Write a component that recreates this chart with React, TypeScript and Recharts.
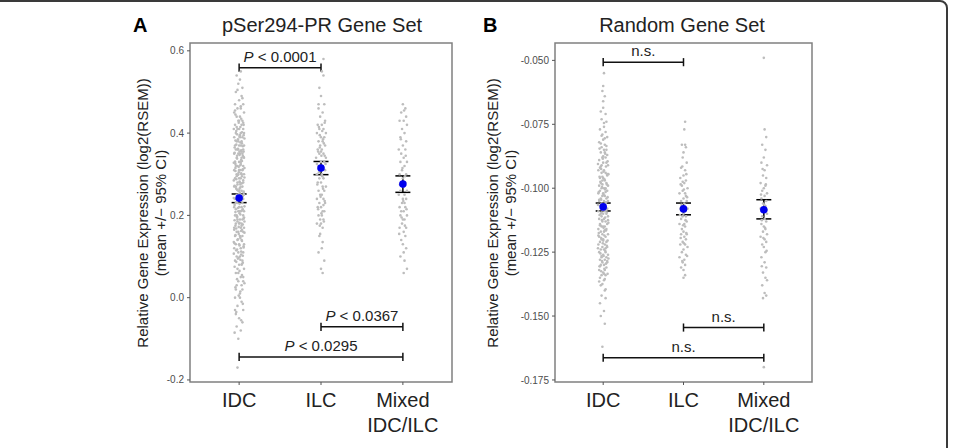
import {
  ScatterChart,
  Scatter,
  XAxis,
  YAxis,
  ReferenceLine,
  ReferenceArea,
  ErrorBar,
} from 'recharts'

const FONT = '"Liberation Sans", Arial, Helvetica, sans-serif'

const categories = ['IDC', 'ILC', 'Mixed\nIDC/ILC']

// ---- panel A: pSer294-PR gene set ([jitter, value] per sample) ----
const pSerTicks = [-0.2, 0, 0.2, 0.4, 0.6]
const pSerMeans = [0.242, 0.315, 0.276]
const pSerLow = [0.231, 0.299, 0.256]
const pSerHigh = [0.252, 0.331, 0.296]

const pSerIDC: [number, number][] = [
  [0.02, 0.55], [-0.03, 0.54], [0.01, 0.53], [-0.01, 0.52], [0.04, 0.51], [-0.04, 0.5], [0.03, 0.49], [0.0, 0.48], [-0.05, 0.47], [0.05, 0.47],
  [-0.02, 0.46], [0.02, 0.46], [0.06, 0.45], [-0.06, 0.45], [0.01, 0.44], [-0.03, 0.44], [0.04, 0.43], [-0.01, 0.43], [0.03, 0.42], [-0.05, 0.42],
  [0.05, 0.41], [-0.02, 0.41], [0.0, 0.41], [0.06, 0.4], [-0.04, 0.4], [0.02, 0.4], [-0.06, 0.39], [0.01, 0.39], [0.04, 0.39], [-0.03, 0.38],
  [0.03, 0.38], [-0.01, 0.38], [0.06, 0.37], [-0.05, 0.37], [0.0, 0.37], [0.02, 0.37], [-0.02, 0.36], [0.05, 0.36], [-0.04, 0.36], [0.01, 0.35],
  [-0.06, 0.35], [0.04, 0.35], [-0.01, 0.35], [0.03, 0.34], [-0.03, 0.34], [0.06, 0.34], [0.0, 0.33], [-0.05, 0.33], [0.02, 0.33], [0.05, 0.32],
  [-0.02, 0.32], [-0.04, 0.32], [0.01, 0.31], [0.04, 0.31], [-0.06, 0.31], [0.03, 0.3], [-0.01, 0.3], [0.06, 0.3], [-0.03, 0.3], [0.0, 0.29],
  [0.02, 0.29], [-0.05, 0.29], [0.05, 0.28], [-0.02, 0.28], [0.01, 0.28], [-0.04, 0.27], [0.04, 0.27], [-0.06, 0.27], [0.03, 0.26], [0.0, 0.26],
  [-0.01, 0.26], [0.06, 0.25], [-0.03, 0.25], [0.02, 0.25], [-0.05, 0.24], [0.05, 0.24], [0.01, 0.24], [-0.02, 0.23], [0.04, 0.23], [-0.04, 0.23],
  [0.03, 0.22], [-0.06, 0.22], [0.0, 0.22], [0.06, 0.21], [-0.01, 0.21], [0.02, 0.21], [-0.03, 0.2], [0.05, 0.2], [-0.05, 0.2], [0.01, 0.19],
  [0.04, 0.19], [-0.02, 0.19], [-0.04, 0.18], [0.03, 0.18], [0.0, 0.18], [0.06, 0.17], [-0.06, 0.17], [0.02, 0.17], [-0.01, 0.16], [0.05, 0.16],
  [-0.03, 0.16], [0.01, 0.15], [-0.05, 0.15], [0.04, 0.15], [-0.02, 0.14], [0.03, 0.14], [0.0, 0.13], [-0.04, 0.13], [0.06, 0.13], [0.02, 0.12],
  [-0.06, 0.12], [-0.01, 0.11], [0.05, 0.11], [0.01, 0.1], [-0.03, 0.1], [0.04, 0.09], [-0.05, 0.09], [0.0, 0.08], [0.03, 0.08], [-0.02, 0.07],
  [0.06, 0.07], [-0.04, 0.06], [0.02, 0.05], [0.05, 0.04], [-0.01, 0.04], [-0.03, 0.03], [0.04, 0.02], [0.01, 0.01], [-0.05, 0.0], [0.03, -0.01],
  [-0.02, -0.02], [0.05, -0.03], [-0.04, -0.04], [0.0, -0.05], [0.04, -0.06], [-0.03, -0.07], [0.02, -0.08], [-0.01, -0.1], [-0.02, -0.17],
  [0.015, 0.415], [-0.035, 0.405], [0.055, 0.395], [-0.015, 0.385], [0.035, 0.375], [-0.055, 0.365], [0.005, 0.355], [0.045, 0.345], [-0.025, 0.345], [0.025, 0.335],
  [-0.045, 0.325], [0.065, 0.315], [-0.005, 0.305], [0.035, 0.295], [-0.065, 0.285], [0.015, 0.275], [-0.035, 0.265], [0.055, 0.255], [-0.015, 0.245], [0.025, 0.235],
  [-0.055, 0.225], [0.045, 0.215], [0.005, 0.205], [-0.025, 0.195], [0.065, 0.185], [-0.045, 0.175], [0.035, 0.165], [-0.005, 0.155], [0.015, 0.145], [-0.065, 0.135],
  [0.055, 0.125], [-0.035, 0.115], [0.025, 0.105], [-0.015, 0.095], [0.045, 0.085], [-0.055, 0.075], [0.005, 0.065], [0.035, 0.055], [-0.025, 0.045], [0.065, 0.035],
  [-0.045, 0.025], [0.015, 0.015], [-0.005, 0.005], [0.045, -0.015], [-0.035, -0.035], [0.025, -0.055], [-0.055, -0.085], [0.005, 0.265], [-0.045, 0.315], [0.055, 0.355],
  [-0.045, 0.445], [0.025, 0.435], [-0.005, 0.425], [0.055, 0.42], [-0.065, 0.41], [0.035, 0.402], [-0.025, 0.397], [0.005, 0.392], [0.065, 0.387], [-0.045, 0.382],
  [0.015, 0.377], [-0.035, 0.372], [0.045, 0.368], [-0.015, 0.362], [0.025, 0.358], [-0.055, 0.352], [0.005, 0.347], [0.055, 0.342], [-0.025, 0.338], [0.035, 0.332],
  [-0.065, 0.328], [0.015, 0.322], [-0.005, 0.318], [0.045, 0.312], [-0.045, 0.308], [0.025, 0.302], [-0.015, 0.298], [0.065, 0.292], [-0.035, 0.288], [0.005, 0.282],
  [0.035, 0.278], [-0.055, 0.272], [0.015, 0.268], [-0.025, 0.262], [0.055, 0.258], [-0.005, 0.252], [0.045, 0.248], [-0.065, 0.242], [0.025, 0.238], [-0.035, 0.232],
  [0.005, 0.228], [0.065, 0.222], [-0.015, 0.218], [0.035, 0.212], [-0.045, 0.208], [0.015, 0.202], [-0.025, 0.198], [0.055, 0.192], [-0.055, 0.188], [0.005, 0.182],
  [0.045, 0.178], [-0.005, 0.172], [-0.035, 0.168], [0.025, 0.162], [0.065, 0.158], [-0.045, 0.152], [0.015, 0.148], [-0.015, 0.142], [0.035, 0.138], [-0.055, 0.132],
  [0.005, 0.127], [0.055, 0.122], [-0.025, 0.117], [0.025, 0.112], [-0.065, 0.107], [0.045, 0.102], [-0.005, 0.097], [0.015, 0.092], [-0.035, 0.087], [0.035, 0.082],
  [-0.01, 0.36], [0.03, 0.355], [-0.05, 0.33], [0.02, 0.325], [0.0, 0.31], [-0.03, 0.295], [0.05, 0.285], [-0.02, 0.275], [0.01, 0.255], [0.04, 0.245],
  [-0.04, 0.215], [0.0, 0.21], [0.06, 0.195], [-0.02, 0.185], [0.03, 0.175], [-0.06, 0.165], [0.01, 0.395], [-0.03, 0.415], [0.05, 0.425], [0.0, 0.43],
  [-0.05, 0.455], [0.02, 0.465], [0.04, 0.485], [-0.02, 0.505], [0.01, 0.0], [-0.04, 0.02], [0.03, 0.03], [-0.01, 0.06], [0.05, 0.05], [-0.05, -0.03],
]

const pSerILC: [number, number][] = [
  [0.03, 0.58], [0.01, 0.55], [0.03, 0.54], [-0.02, 0.51], [0.0, 0.49], [0.04, 0.47], [-0.03, 0.46], [0.02, 0.45], [-0.01, 0.44], [0.05, 0.43],
  [-0.04, 0.42], [0.01, 0.42], [0.03, 0.41], [-0.02, 0.41], [0.06, 0.4], [-0.05, 0.4], [0.0, 0.39], [0.04, 0.39], [-0.03, 0.38], [0.02, 0.38],
  [-0.01, 0.37], [0.05, 0.37], [-0.04, 0.36], [0.01, 0.36], [0.03, 0.35], [-0.02, 0.35], [0.06, 0.34], [-0.06, 0.34], [0.0, 0.33], [0.04, 0.33],
  [-0.03, 0.32], [0.02, 0.32], [-0.01, 0.31], [0.05, 0.31], [-0.05, 0.3], [0.01, 0.3], [0.03, 0.29], [-0.02, 0.29], [-0.04, 0.28], [0.0, 0.28],
  [0.06, 0.27], [0.02, 0.27], [-0.03, 0.26], [0.04, 0.26], [-0.01, 0.25], [0.01, 0.25], [-0.05, 0.24], [0.03, 0.24], [0.05, 0.23], [-0.02, 0.23],
  [0.0, 0.22], [-0.04, 0.22], [0.02, 0.21], [0.04, 0.21], [-0.03, 0.2], [0.01, 0.2], [-0.01, 0.19], [0.03, 0.19], [-0.05, 0.18], [0.0, 0.18],
  [0.02, 0.17], [-0.02, 0.15], [0.01, 0.12], [-0.03, 0.11], [0.04, 0.09], [0.0, 0.07], [0.02, 0.06], [0.025, 0.385], [-0.015, 0.365], [0.045, 0.345],
  [-0.015, 0.395], [0.035, 0.375], [-0.035, 0.355], [0.005, 0.345], [0.055, 0.325], [-0.025, 0.305], [0.015, 0.295], [-0.045, 0.275], [0.025, 0.265], [-0.005, 0.245],
  [0.045, 0.235], [-0.035, 0.215], [0.005, 0.205], [0.035, 0.185], [-0.015, 0.175], [0.015, 0.405], [-0.025, 0.415], [0.045, 0.425], [0.0, 0.355], [-0.05, 0.325],
  [0.03, 0.225], [-0.01, 0.155], [0.02, 0.135], [-0.03, 0.47],
]

const pSerMixed: [number, number][] = [
  [0.0, 0.47], [0.03, 0.46], [-0.02, 0.45], [0.04, 0.44], [-0.04, 0.43], [0.01, 0.43], [0.05, 0.42], [-0.01, 0.41], [0.02, 0.4], [-0.03, 0.39],
  [0.04, 0.38], [0.0, 0.37], [-0.05, 0.36], [0.03, 0.36], [-0.02, 0.35], [0.01, 0.34], [0.05, 0.33], [-0.03, 0.33], [0.02, 0.32], [-0.01, 0.31],
  [0.04, 0.3], [-0.04, 0.3], [0.0, 0.29], [0.03, 0.28], [-0.02, 0.28], [0.01, 0.27], [0.05, 0.26], [-0.03, 0.26], [0.02, 0.25], [-0.05, 0.25],
  [0.0, 0.24], [0.04, 0.24], [-0.01, 0.23], [0.02, 0.23], [-0.04, 0.22], [0.03, 0.22], [0.01, 0.21], [-0.02, 0.21], [0.05, 0.2], [-0.03, 0.2],
  [0.0, 0.19], [0.02, 0.19], [-0.01, 0.18], [0.04, 0.17], [-0.04, 0.17], [0.01, 0.16], [0.03, 0.15], [-0.02, 0.14], [0.0, 0.13], [0.04, 0.12],
  [-0.03, 0.1], [0.02, 0.09], [0.05, 0.07], [0.01, 0.06], [0.015, 0.455], [-0.025, 0.385], [0.035, 0.345], [-0.005, 0.315], [0.025, 0.295], [-0.035, 0.275],
  [0.005, 0.235], [0.045, 0.215], [-0.015, 0.195], [0.025, 0.175], [-0.045, 0.155], [0.01, 0.11],
]

const pSerBrackets = [
  { from: 1, to: 2, y: 0.559, text: 'P < 0.0001' },
  { from: 2, to: 3, y: -0.071, text: 'P < 0.0367' },
  { from: 1, to: 3, y: -0.144, text: 'P < 0.0295' },
]

// ---- panel B: random gene set ----
const randTicks = [-0.175, -0.15, -0.125, -0.1, -0.075, -0.05]
const randMeans = [-0.1073, -0.1081, -0.1084]
const randLow = [-0.1089, -0.1104, -0.112]
const randHigh = [-0.1058, -0.1058, -0.1045]

const randIDC: [number, number][] = [
  [0.01, -0.055], [0.0, -0.06], [-0.01, -0.062], [0.02, -0.064], [0.0, -0.066], [-0.03, -0.07], [0.03, -0.071], [-0.02, -0.073], [0.04, -0.074], [0.01, -0.076],
  [-0.04, -0.077], [0.03, -0.078], [-0.01, -0.079], [0.05, -0.08], [0.0, -0.081], [-0.05, -0.082], [0.02, -0.083], [-0.02, -0.084], [0.04, -0.085], [0.01, -0.085],
  [0.02, -0.086], [-0.03, -0.086], [0.05, -0.087], [-0.01, -0.088], [0.03, -0.088], [-0.05, -0.089], [0.0, -0.09], [0.04, -0.09], [-0.02, -0.091], [0.06, -0.091],
  [-0.04, -0.092], [0.01, -0.093], [-0.06, -0.093], [0.03, -0.094], [-0.02, -0.094], [0.05, -0.095], [0.0, -0.096], [-0.04, -0.096], [0.02, -0.097], [-0.01, -0.097],
  [0.04, -0.098], [-0.03, -0.098], [0.06, -0.099], [-0.05, -0.099], [0.01, -0.1], [-0.02, -0.1], [0.03, -0.1], [-0.04, -0.101], [0.05, -0.101], [0.0, -0.102],
  [-0.06, -0.102], [0.02, -0.103], [-0.01, -0.103], [0.04, -0.104], [-0.03, -0.104], [0.01, -0.105], [-0.05, -0.105], [0.06, -0.105], [0.03, -0.106], [-0.02, -0.106],
  [0.0, -0.107], [-0.04, -0.107], [0.05, -0.108], [-0.01, -0.108], [0.02, -0.109], [-0.06, -0.109], [0.04, -0.11], [-0.03, -0.11], [0.0, -0.11], [-0.02, -0.111],
  [0.06, -0.111], [0.01, -0.112], [-0.05, -0.112], [0.03, -0.113], [-0.01, -0.113], [-0.04, -0.114], [0.05, -0.114], [0.0, -0.115], [-0.02, -0.115], [0.02, -0.115],
  [0.04, -0.116], [-0.06, -0.116], [-0.03, -0.117], [0.01, -0.117], [0.06, -0.118], [-0.01, -0.118], [-0.05, -0.119], [0.03, -0.119], [0.0, -0.12], [-0.02, -0.12],
  [0.04, -0.121], [-0.04, -0.121], [0.02, -0.122], [-0.06, -0.122], [0.05, -0.123], [-0.01, -0.123], [-0.03, -0.124], [0.01, -0.124], [0.03, -0.125], [-0.05, -0.125],
  [0.0, -0.126], [0.06, -0.126], [-0.02, -0.127], [0.04, -0.127], [-0.04, -0.128], [0.02, -0.128], [0.05, -0.129], [-0.01, -0.129], [-0.03, -0.13], [0.01, -0.13],
  [0.04, -0.131], [-0.05, -0.132], [0.02, -0.132], [0.0, -0.133], [-0.02, -0.134], [0.03, -0.134], [-0.04, -0.135], [0.01, -0.136], [-0.03, -0.138], [0.02, -0.14],
  [-0.02, -0.142], [0.03, -0.143], [-0.04, -0.145], [0.01, -0.148], [-0.03, -0.15], [0.02, -0.153], [-0.01, -0.162],
  [-0.045, -0.0845], [0.025, -0.0865], [-0.005, -0.0885], [0.055, -0.0895], [-0.065, -0.0905], [0.035, -0.0915], [-0.025, -0.0925], [0.005, -0.0935], [0.065, -0.0945], [-0.045, -0.0955],
  [0.015, -0.0965], [-0.035, -0.0975], [0.045, -0.0985], [-0.015, -0.0995], [0.025, -0.1005], [-0.055, -0.1015], [0.005, -0.1025], [0.055, -0.1035], [-0.025, -0.1045], [0.035, -0.1055],
  [-0.065, -0.1065], [0.015, -0.1075], [-0.005, -0.1085], [0.045, -0.1095], [-0.045, -0.1105], [0.025, -0.1115], [-0.015, -0.1125], [0.065, -0.1135], [-0.035, -0.1145], [0.005, -0.1155],
  [0.035, -0.1165], [-0.055, -0.1175], [0.015, -0.1185], [-0.025, -0.1195], [0.055, -0.1205], [-0.005, -0.1215], [0.045, -0.1225], [-0.065, -0.1235], [0.025, -0.1245], [-0.035, -0.1255],
  [0.005, -0.1265], [0.065, -0.1275], [-0.015, -0.1285], [0.035, -0.1295], [-0.045, -0.1305], [0.015, -0.1315], [-0.025, -0.1325], [0.055, -0.1335],
  [0.0, -0.0875], [-0.03, -0.0915], [0.05, -0.0945], [-0.01, -0.0985], [0.03, -0.1015], [-0.05, -0.1045], [0.01, -0.1065], [0.04, -0.1085], [-0.02, -0.1095], [0.06, -0.1125],
  [-0.04, -0.1145], [0.02, -0.1165], [-0.06, -0.1185], [0.0, -0.1205], [0.03, -0.1235], [-0.02, -0.1265], [0.05, -0.1285], [-0.04, -0.1305], [0.01, -0.1335], [-0.01, -0.0955],
  [0.02, -0.0805], [-0.03, -0.0825], [0.04, -0.0835], [-0.02, -0.0795], [0.01, -0.0745], [0.0, -0.0685], [-0.01, -0.1375], [0.03, -0.1395], [-0.05, -0.1365], [0.02, -0.1355],
]

const randILC: [number, number][] = [
  [0.02, -0.074], [0.01, -0.077], [-0.02, -0.083], [0.03, -0.084], [0.0, -0.086], [-0.01, -0.088], [0.04, -0.09], [-0.03, -0.092], [0.02, -0.093], [0.0, -0.095],
  [-0.04, -0.096], [0.03, -0.097], [0.01, -0.098], [-0.02, -0.099], [0.05, -0.1], [-0.01, -0.101], [0.02, -0.102], [-0.05, -0.102], [0.03, -0.103], [0.0, -0.104],
  [-0.03, -0.105], [0.04, -0.105], [0.01, -0.106], [-0.02, -0.107], [0.05, -0.108], [-0.04, -0.108], [0.02, -0.109], [0.0, -0.11], [-0.01, -0.111], [0.03, -0.111],
  [-0.03, -0.112], [0.04, -0.113], [0.01, -0.114], [-0.05, -0.114], [0.02, -0.115], [-0.02, -0.116], [0.0, -0.117], [0.04, -0.118], [-0.03, -0.118], [0.01, -0.119],
  [0.03, -0.12], [-0.01, -0.121], [-0.04, -0.122], [0.02, -0.122], [0.05, -0.123], [0.0, -0.124], [-0.02, -0.125], [0.03, -0.126], [-0.05, -0.127], [0.01, -0.128],
  [-0.01, -0.129], [0.02, -0.13], [-0.03, -0.131], [0.0, -0.132], [0.02, -0.134], [0.0, -0.135],
  [-0.015, -0.0915], [0.035, -0.0945], [-0.035, -0.0985], [0.005, -0.1005], [0.045, -0.1035], [-0.025, -0.1065], [0.015, -0.1085], [-0.045, -0.1105], [0.025, -0.1125], [-0.005, -0.1145],
  [0.035, -0.1175], [-0.035, -0.1195], [0.005, -0.1215], [0.045, -0.1265], [-0.015, -0.1285], [0.02, -0.083], [-0.01, -0.0975],
]

const randMixed: [number, number][] = [
  [0.0, -0.049], [0.01, -0.077], [0.03, -0.08], [-0.02, -0.083], [0.02, -0.085], [0.0, -0.088], [-0.03, -0.09], [0.04, -0.091], [0.01, -0.093], [-0.01, -0.095],
  [0.03, -0.096], [-0.04, -0.098], [0.02, -0.099], [0.0, -0.1], [-0.02, -0.101], [0.04, -0.102], [0.01, -0.103], [-0.03, -0.104], [0.03, -0.105], [-0.01, -0.106],
  [0.02, -0.107], [-0.04, -0.108], [0.0, -0.109], [0.04, -0.11], [-0.02, -0.111], [0.01, -0.112], [0.03, -0.113], [-0.03, -0.114], [0.0, -0.115], [0.02, -0.116],
  [-0.01, -0.117], [0.04, -0.118], [-0.04, -0.119], [0.01, -0.12], [0.03, -0.121], [-0.02, -0.122], [0.0, -0.123], [0.02, -0.125], [-0.03, -0.127], [0.01, -0.129],
  [0.03, -0.131], [-0.01, -0.133], [0.02, -0.135], [0.04, -0.136], [-0.02, -0.138], [0.01, -0.141], [0.03, -0.142], [-0.01, -0.143], [0.0, -0.17],
  [-0.015, -0.0925], [0.025, -0.0985], [-0.035, -0.1025], [0.005, -0.1065], [0.035, -0.1085], [-0.025, -0.1125], [0.015, -0.1155], [-0.005, -0.1195], [0.035, -0.1245], [-0.025, -0.1305],
]

const randBrackets = [
  { from: 1, to: 2, y: -0.0507, text: 'n.s.' },
  { from: 2, to: 3, y: -0.1545, text: 'n.s.' },
  { from: 1, to: 3, y: -0.1663, text: 'n.s.' },
]

const GrayDot = (props: any) => (
  <circle cx={props.cx} cy={props.cy} r={1.3} fill="#bdbdbd" />
)

const BlueDot = (props: any) => (
  <circle cx={props.cx} cy={props.cy} r={3.8} fill="#0000ee" />
)

const CategoryTick = (props: any) => {
  const { x, y, payload } = props
  const lines = categories[Math.round(payload.value) - 1].split('\n')
  return (
    <text x={x} y={y} textAnchor="middle" fontSize={20} fill="#222" fontFamily={FONT}>
      {lines.map((l, i) => (
        <tspan key={i} x={x} dy={i === 0 ? 20 : 25}>
          {l}
        </tspan>
      ))}
    </text>
  )
}

const bracketLabel = (text: string) => (props: any) => {
  const vb = props.viewBox
  const cx = vb.x + vb.width / 2
  const italic = text.startsWith('P ')
  return (
    <text x={cx} y={vb.y - 6} textAnchor="middle" fontSize={15} fill="#222" fontFamily={FONT}>
      {italic ? <tspan fontStyle="italic">P</tspan> : null}
      {italic ? text.slice(1) : text}
    </text>
  )
}

function Panel({
  left,
  width,
  marginLeft,
  marginRight,
  domain,
  ticks,
  digits,
  groups,
  means,
  low,
  high,
  brackets,
}: any) {
  const points = groups.flatMap((g: [number, number][], i: number) =>
    g.map(([dx, y]) => ({ x: i + 1 + dx, y }))
  )
  const meanData = means.map((m: number, i: number) => ({
    x: i + 1,
    y: m,
    ci: [m - low[i], high[i] - m],
  }))
  const cap = (domain[1] - domain[0]) * 0.012

  return (
    <div style={{ position: 'absolute', left, top: 0 }}>
      <ScatterChart
        width={width}
        height={448}
        margin={{ top: 43, right: marginRight, bottom: 6, left: marginLeft }}
      >
        <XAxis
          type="number"
          dataKey="x"
          domain={[0.4, 3.6]}
          ticks={[1, 2, 3]}
          height={60}
          tick={<CategoryTick />}
          tickSize={3}
          axisLine={false}
          tickLine={{ stroke: '#555' }}
          allowDataOverflow
        />
        <YAxis
          type="number"
          dataKey="y"
          domain={domain}
          ticks={ticks}
          width={40}
          tickFormatter={(v: number) => v.toFixed(digits)}
          tick={{ fontSize: 10, fill: '#4d4d4d', fontFamily: FONT }}
          tickSize={3}
          tickMargin={3}
          axisLine={false}
          tickLine={{ stroke: '#555' }}
          allowDataOverflow
        />
        <ReferenceArea
          x1={0.4}
          x2={3.6}
          y1={domain[0]}
          y2={domain[1]}
          fill="none"
          fillOpacity={0}
          stroke="#808080"
          strokeWidth={1.5}
        />
        <Scatter data={points} isAnimationActive={false} shape={GrayDot} />
        {brackets.map((b: any, i: number) => (
          <ReferenceLine
            key={'h' + i}
            segment={[
              { x: b.from, y: b.y },
              { x: b.to, y: b.y },
            ]}
            stroke="#111"
            strokeWidth={1.5}
            label={bracketLabel(b.text)}
          />
        ))}
        {brackets.flatMap((b: any, i: number) =>
          [b.from, b.to].map((xv: number, j: number) => (
            <ReferenceLine
              key={'v' + i + '-' + j}
              segment={[
                { x: xv, y: b.y - cap },
                { x: xv, y: b.y + cap },
              ]}
              stroke="#111"
              strokeWidth={1.5}
            />
          ))
        )}
        <Scatter data={meanData} isAnimationActive={false} shape={BlueDot}>
          <ErrorBar dataKey="ci" direction="y" width={7.5} stroke="#000" strokeWidth={1.5} />
        </Scatter>
      </ScatterChart>
    </div>
  )
}

const textStyle = {
  position: 'absolute' as const,
  fontFamily: FONT,
  color: '#222',
  whiteSpace: 'nowrap' as const,
  lineHeight: 1,
}

function YLabel({ cx, cy, children }: any) {
  return (
    <div
      style={{
        ...textStyle,
        left: cx,
        top: cy,
        fontSize: 15,
        transform: 'translate(-50%, -50%) rotate(-90deg)',
      }}
    >
      {children}
    </div>
  )
}

function Title({ cx, children }: any) {
  return (
    <div style={{ ...textStyle, left: cx, top: 25, fontSize: 20, transform: 'translate(-50%, -50%)' }}>
      {children}
    </div>
  )
}

function Letter({ x, children }: any) {
  return (
    <div style={{ ...textStyle, left: x, top: 25, fontSize: 20, fontWeight: 'bold', color: '#000', transform: 'translateY(-50%)' }}>
      {children}
    </div>
  )
}

export default function App() {
  return (
    <div
      style={{
        position: 'absolute',
        left: 0,
        top: 0,
        width: 953,
        height: 448,
        overflow: 'hidden',
        background: '#fff',
      }}
    >
      <div
        style={{
          position: 'absolute',
          left: -20,
          top: 0,
          width: 968,
          height: 600,
          border: '2px solid #3a3a3a',
          borderRadius: 8,
          boxSizing: 'border-box',
        }}
      />
      <Panel
        left={0}
        width={470}
        marginLeft={150}
        marginRight={18}
        domain={[-0.205, 0.619]}
        ticks={pSerTicks}
        digits={1}
        groups={[pSerIDC, pSerILC, pSerMixed]}
        means={pSerMeans}
        low={pSerLow}
        high={pSerHigh}
        brackets={pSerBrackets}
      />
      <Panel
        left={480}
        width={473}
        marginLeft={35}
        marginRight={141}
        domain={[-0.1758, -0.0432]}
        ticks={randTicks}
        digits={3}
        groups={[randIDC, randILC, randMixed]}
        means={randMeans}
        low={randLow}
        high={randHigh}
        brackets={randBrackets}
      />
      <Letter x={133}>A</Letter>
      <Title cx={322}>pSer294-PR Gene Set</Title>
      <YLabel cx={142} cy={213}>Relative Gene Expression (log2(RSEM))</YLabel>
      <YLabel cx={160} cy={213}>(mean +/− 95% CI)</YLabel>
      <Letter x={483}>B</Letter>
      <Title cx={682}>Random Gene Set</Title>
      <YLabel cx={492} cy={213}>Relative Gene Expression (log2(RSEM))</YLabel>
      <YLabel cx={510} cy={213}>(mean +/− 95% CI)</YLabel>
    </div>
  )
}
